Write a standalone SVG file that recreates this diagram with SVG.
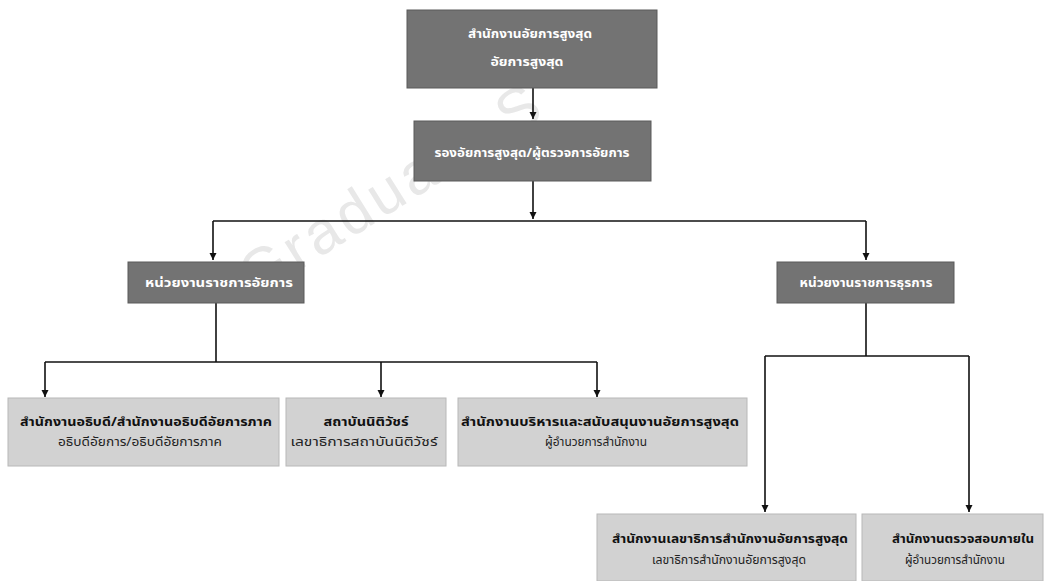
<svg xmlns="http://www.w3.org/2000/svg" width="1049" height="581" viewBox="0 0 1049 581">
<style>
.dark{fill:#737373;stroke:#5a5a5a;stroke-width:1}
.light{fill:#d2d2d2;stroke:#b8b8b8;stroke-width:1}
.tw{fill:#ffffff;font-family:"Noto Sans Thai","Noto Sans","DejaVu Sans",sans-serif;font-weight:bold;font-size:12px;text-anchor:middle}
.tb{fill:#111111;font-family:"Noto Sans Thai","Noto Sans","DejaVu Sans",sans-serif;font-weight:bold;font-size:13px;text-anchor:middle}
.tn{fill:#222222;font-family:"Noto Sans Thai","Noto Sans","DejaVu Sans",sans-serif;font-weight:normal;font-size:12.5px;text-anchor:middle}
.wm{fill:#e8e8e8;font-family:"Liberation Sans",Arial,sans-serif;font-size:60px;letter-spacing:4px}
.c{fill:none;stroke:#111111;stroke-width:1.6}
</style>
<defs>
<marker id="ah" viewBox="0 0 10 10" refX="10" refY="5" markerWidth="4.5" markerHeight="4.5" orient="auto" markerUnits="strokeWidth">
<path d="M0,0 L10,5 L0,10 z" fill="#111111"/>
</marker>
</defs>
<rect width="1049" height="581" fill="#ffffff"/>
<text class="wm" transform="translate(255,298) rotate(-32)">Graduate S</text>
<g id="connectors">
<path class="c" d="M533,88 V119" marker-end="url(#ah)"/>
<path class="c" d="M533,181 V219" marker-end="url(#ah)"/>
<path class="c" d="M213,221 H866"/>
<path class="c" d="M213,221 V260" marker-end="url(#ah)"/>
<path class="c" d="M866,221 V260" marker-end="url(#ah)"/>
<path class="c" d="M216,303 V362"/>
<path class="c" d="M45,362 H597"/>
<path class="c" d="M45,362 V397" marker-end="url(#ah)"/>
<path class="c" d="M381,362 V397" marker-end="url(#ah)"/>
<path class="c" d="M597,362 V397" marker-end="url(#ah)"/>
<path class="c" d="M866,303 V356"/>
<path class="c" d="M765,356 H969"/>
<path class="c" d="M765,356 V512" marker-end="url(#ah)"/>
<path class="c" d="M969,356 V512" marker-end="url(#ah)"/>
</g>
<g id="n-top">
<rect class="dark" x="407" y="10" width="250" height="78"/>
<text class="tw" x="530" y="38" textLength="124" lengthAdjust="spacingAndGlyphs">สำนักงานอัยการสูงสุด</text>
<text class="tw" x="527" y="66" textLength="73" lengthAdjust="spacingAndGlyphs">อัยการสูงสุด</text>
</g>
<g id="n-deputy">
<rect class="dark" x="414" y="121" width="237" height="60"/>
<text class="tw" x="532" y="157" textLength="195" lengthAdjust="spacingAndGlyphs">รองอัยการสูงสุด/ผู้ตรวจการอัยการ</text>
</g>
<g id="n-prosecution">
<rect class="dark" x="128" y="262" width="176" height="41"/>
<text class="tw" x="219" y="287" textLength="148" lengthAdjust="spacingAndGlyphs">หน่วยงานราชการอัยการ</text>
</g>
<g id="n-admin">
<rect class="dark" x="777" y="262" width="177" height="41"/>
<text class="tw" x="866" y="287" textLength="133" lengthAdjust="spacingAndGlyphs">หน่วยงานราชการธุรการ</text>
</g>
<g id="n-director-general">
<rect class="light" x="8" y="398" width="271" height="68"/>
<text class="tb" x="146" y="426" textLength="252" lengthAdjust="spacingAndGlyphs">สำนักงานอธิบดี/สำนักงานอธิบดีอัยการภาค</text>
<text class="tn" x="140" y="446" textLength="164" lengthAdjust="spacingAndGlyphs">อธิบดีอัยการ/อธิบดีอัยการภาค</text>
</g>
<g id="n-institute">
<rect class="light" x="286" y="398" width="160" height="68"/>
<text class="tb" x="366" y="426" textLength="85" lengthAdjust="spacingAndGlyphs">สถาบันนิติวัชร์</text>
<text class="tn" x="364" y="446" textLength="147" lengthAdjust="spacingAndGlyphs">เลขาธิการสถาบันนิติวัชร์</text>
</g>
<g id="n-support">
<rect class="light" x="458" y="398" width="289" height="68"/>
<text class="tb" x="600" y="426" textLength="278" lengthAdjust="spacingAndGlyphs">สำนักงานบริหารและสนับสนุนงานอัยการสูงสุด</text>
<text class="tn" x="596" y="446" textLength="102" lengthAdjust="spacingAndGlyphs">ผู้อำนวยการสำนักงาน</text>
</g>
<g id="n-secretary">
<rect class="light" x="597" y="514" width="259" height="67"/>
<text class="tb" x="730" y="543" textLength="236" lengthAdjust="spacingAndGlyphs">สำนักงานเลขาธิการสำนักงานอัยการสูงสุด</text>
<text class="tn" x="729" y="564" textLength="154" lengthAdjust="spacingAndGlyphs">เลขาธิการสำนักงานอัยการสูงสุด</text>
</g>
<g id="n-audit">
<rect class="light" x="862" y="514" width="181" height="67"/>
<text class="tb" x="963" y="543" textLength="142" lengthAdjust="spacingAndGlyphs">สำนักงานตรวจสอบภายใน</text>
<text class="tn" x="955" y="564" textLength="100" lengthAdjust="spacingAndGlyphs">ผู้อำนวยการสำนักงาน</text>
</g>
</svg>
